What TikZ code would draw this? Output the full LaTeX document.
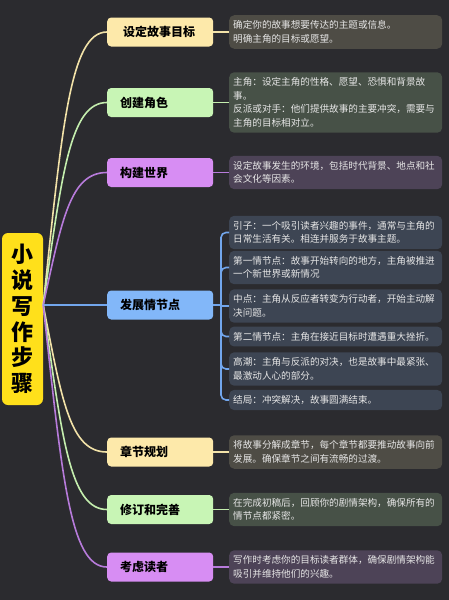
\documentclass[tikz,border=0pt]{standalone}
\usepackage{fontspec}
\setmainfont{Noto Sans CJK SC}
\definecolor{bg}{HTML}{2B2B2F}
\definecolor{rootY}{HTML}{FFE01B}
\definecolor{yFill}{HTML}{FDE9AA}
\definecolor{gFill}{HTML}{C8F5B5}
\definecolor{pFill}{HTML}{D78DF3}
\definecolor{bFill}{HTML}{82B7F9}
\definecolor{yLine}{HTML}{F2E2A8}
\definecolor{gLine}{HTML}{C4EEAE}
\definecolor{pLine}{HTML}{B77BDB}
\definecolor{bLine}{HTML}{72A6EC}
\definecolor{yDesc}{HTML}{4E4C45}
\definecolor{gDesc}{HTML}{475147}
\definecolor{pDesc}{HTML}{4D4357}
\definecolor{bDesc}{HTML}{3D4553}
\definecolor{dText}{HTML}{E6E6E6}
\tikzset{
  rootbox/.style={fill=rootY, rounded corners=6pt, minimum width=41pt, minimum height=172pt,
    text width=26pt, inner sep=0pt, align=center, text=black,
    font=\fontsize{22}{25.8}\selectfont\bfseries},
  branch/.style={rounded corners=4pt, minimum height=29pt, text width=80pt, inner xsep=13pt,
    inner ysep=0pt, align=left, text=black, anchor=west,
    font=\fontsize{12}{14}\selectfont\bfseries},
  desc/.style={rounded corners=5pt, text width=205pt, inner xsep=4pt, inner ysep=5.5pt,
    align=left, text=dText, anchor=west, font=\fontsize{9.6}{13.5}\selectfont},
  conn/.style={line width=1.6pt},
}
\begin{document}
\begin{tikzpicture}[x=1pt,y=-1pt]
\fill[bg] (0,0) rectangle (449,600);
\useasboundingbox (0,0) rectangle (449,600);

% root
\node[rootbox] (root) at (22.5,319) {小\\说\\写\\作\\步\\骤};

% branch nodes
\node[branch, fill=yFill] (b1) at (107,32) {\hspace{3pt}设定故事目标};
\node[branch, fill=gFill] (b2) at (107,102.5) {创建角色};
\node[branch, fill=pFill] (b3) at (107,172.5) {构建世界};
\node[branch, fill=bFill] (b4) at (107,305) {发展情节点};
\node[branch, fill=yFill] (b5) at (107,452) {章节规划};
\node[branch, fill=gFill] (b6) at (107,509.5) {修订和完善};
\node[branch, fill=pFill] (b7) at (107,567) {考虑读者};

% descriptions
\node[desc, fill=yDesc] (d1) at (229,32) {确定你的故事想要传达的主题或信息。\\明确主角的目标或愿望。};
\node[desc, fill=gDesc] (d2) at (229,102.5) {主角：设定主角的性格、愿望、恐惧和背景故\\事。\\反派或对手：他们提供故事的主要冲突，需要与\\主角的目标相对立。};
\node[desc, fill=pDesc] (d3) at (229,172.5) {设定故事发生的环境，包括时代背景、地点和社\\会文化等因素。};
\node[desc, fill=bDesc] (s1) at (229,232.5) {引子：一个吸引读者兴趣的事件，通常与主角的\\日常生活有关。相连并服务于故事主题。};
\node[desc, fill=bDesc] (s2) at (229,267.5) {第一情节点：故事开始转向的地方，主角被推进\\一个新世界或新情况};
\node[desc, fill=bDesc] (s3) at (229,306) {中点：主角从反应者转变为行动者，开始主动解\\决问题。};
\node[desc, fill=bDesc] (s4) at (229,336.5) {第二情节点：主角在接近目标时遭遇重大挫折。};
\node[desc, fill=bDesc] (s5) at (229,369) {高潮：主角与反派的对决，也是故事中最紧张、\\最激动人心的部分。};
\node[desc, fill=bDesc] (s6) at (229,400) {结局：冲突解决，故事圆满结束。};
\node[desc, fill=yDesc] (d5) at (229,452) {将故事分解成章节，每个章节都要推动故事向前\\发展。确保章节之间有流畅的过渡。};
\node[desc, fill=gDesc] (d6) at (229,509.5) {在完成初稿后，回顾你的剧情架构，确保所有的\\情节点都紧密。};
\node[desc, fill=pDesc] (d7) at (229,567) {写作时考虑你的目标读者群体，确保剧情架构能\\吸引并维持他们的兴趣。};

% root connectors
\coordinate (o) at (root.east |- b4.west);
\draw[conn, yLine] (o) .. controls (62,128) and (70,32) .. (b1.west);
\draw[conn, gLine] (o) .. controls (62,173.5) and (70,102.5) .. (b2.west);
\draw[conn, pLine] (o) .. controls (62,219.5) and (70,172.5) .. (b3.west);
\draw[conn, bLine] (o) -- (b4.west);
\draw[conn, yLine] (o) .. controls (62,401) and (70,452) .. (b5.west);
\draw[conn, gLine] (o) .. controls (62,438.5) and (70,509.5) .. (b6.west);
\draw[conn, pLine] (o) .. controls (62,476.5) and (70,567) .. (b7.west);

% branch to description
\draw[conn, yLine] (b1.east) -- (d1.west);
\draw[conn, gLine] (b2.east) -- (d2.west);
\draw[conn, pLine] (b3.east) -- (d3.west);
\draw[conn, yLine] (b5.east) -- (d5.west);
\draw[conn, gLine] (b6.east) -- (d6.west);
\draw[conn, pLine] (b7.east) -- (d7.west);

% plot bracket
\coordinate (bx) at (221,305);
\draw[conn, bLine] (b4.east) -- (bx);
\draw[conn, bLine, rounded corners=5pt] (s1.west) -- (s1.west -| bx) -- (s6.west -| bx) -- (s6.west);
\draw[conn, bLine, rounded corners=5pt] ([yshift=-10pt]s2.west -| bx) -- (s2.west -| bx) -- (s2.west);
\draw[conn, bLine] (s3.west -| bx) -- (s3.west);
\draw[conn, bLine, rounded corners=5pt] ([yshift=10pt]s4.west -| bx) -- (s4.west -| bx) -- (s4.west);
\draw[conn, bLine, rounded corners=5pt] ([yshift=10pt]s5.west -| bx) -- (s5.west -| bx) -- (s5.west);
\end{tikzpicture}
\end{document}
